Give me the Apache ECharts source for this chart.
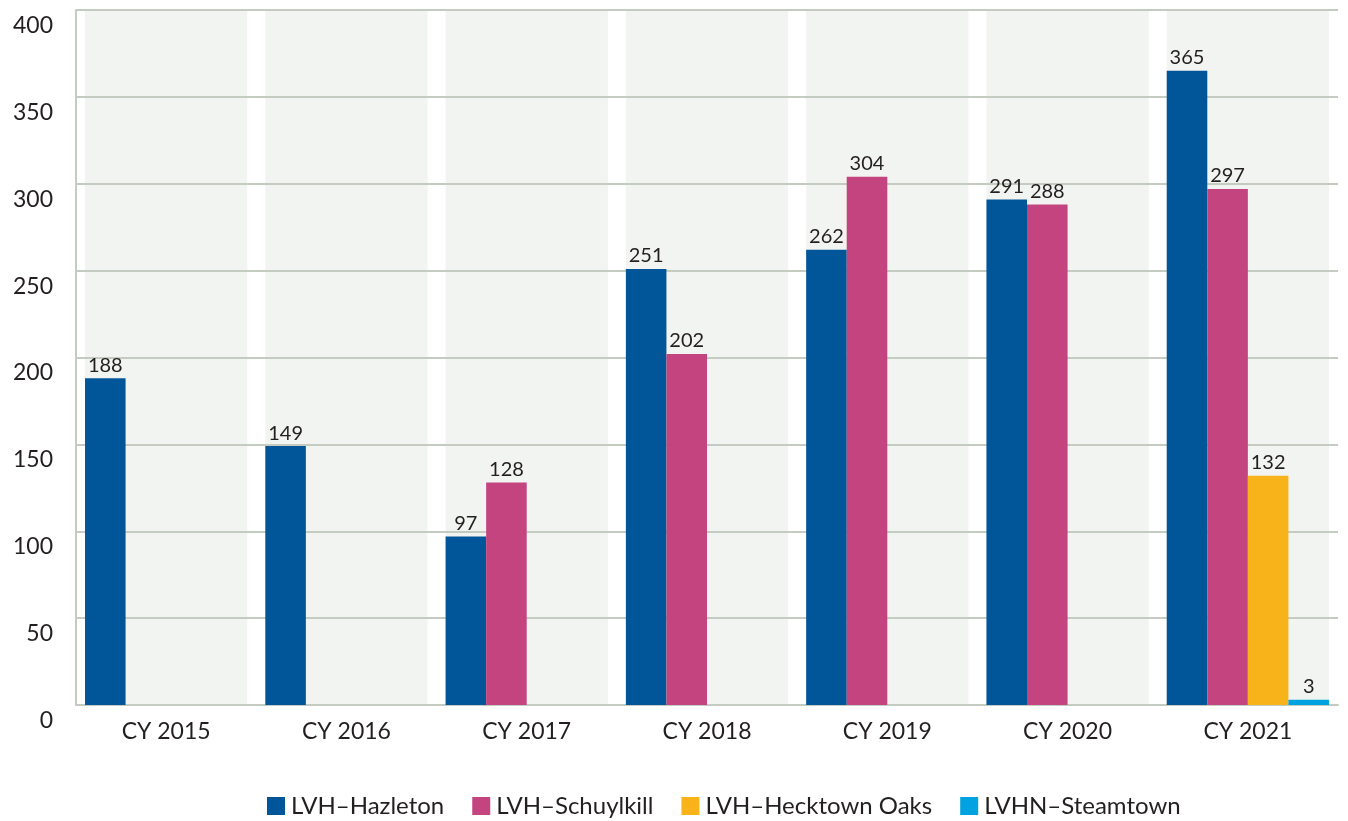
<!DOCTYPE html>
<html>
<head>
<meta charset="utf-8">
<script src="https://cdn.jsdelivr.net/npm/echarts@6/dist/echarts.min.js"></script>
<style>html,body{margin:0;padding:0;background:#fff;}#c{width:1348px;height:821px;}</style>
</head>
<body>
<div id="c"></div>
<script>
const categories = ['CY 2015','CY 2016','CY 2017','CY 2018','CY 2019','CY 2020','CY 2021'];
const hazleton   = [188, 149, 97, 251, 262, 291, 365];
const schuylkill = [null, null, 128, 202, 304, 288, 297];
const hecktown   = [null, null, null, null, null, null, 132];
const steamtown  = [null, null, null, null, null, null, 3];
const bandValues = [400, 400, 400, 400, 400, 400, 400];
const yTicks = {min: 0, max: 400, interval: 50};

const FONT = 'Lato';
const TXT = '#231f20';
const GRIDC = '#c4ccc2';

const chart = echarts.init(document.getElementById('c'));
function barSeries(name, data, color) {
  return {
    name, type: 'bar', data, xAxisIndex: 0, z: 3,
    barGap: '0%', barCategoryGap: '10%',
    itemStyle: {color},
    label: {show: true, position: 'top', distance: 3, color: TXT, fontFamily: FONT, fontSize: 20}
  };
}
chart.setOption({
  animation: false,
  grid: {left: 76, right: 10, top: 10, bottom: 116, containLabel: false},
  legend: {
    top: 794, left: 267, padding: 0, icon: 'rect', itemWidth: 18, itemHeight: 18, itemGap: 28,
    textStyle: {fontFamily: FONT, fontSize: 24, color: TXT, padding: [0,0,0,1]},
    data: ['LVH–Hazleton','LVH–Schuylkill','LVH–Hecktown Oaks','LVHN–Steamtown']
  },
  xAxis: [{
    type: 'category', data: categories, z: 2,
    axisLine: {show: true, lineStyle: {color: GRIDC, width: 2}},
    axisTick: {show: false},
    axisLabel: {color: TXT, fontFamily: FONT, fontSize: 23, margin: 15}
  }, {
    type: 'category', data: categories, show: false
  }],
  yAxis: {
    type: 'value', min: yTicks.min, max: yTicks.max, interval: yTicks.interval, z: 2,
    axisLine: {show: true, lineStyle: {color: GRIDC, width: 2}},
    axisTick: {show: false},
    splitLine: {show: true, lineStyle: {color: GRIDC, width: 2}},
    axisLabel: {color: TXT, fontFamily: FONT, fontSize: 23, margin: 23, verticalAlign: 'top', padding: [4,0,0,0]}
  },
  series: [
    {
      type: 'bar', xAxisIndex: 1, data: bandValues, barWidth: '90%', silent: true, z: 1,
      itemStyle: {color: '#f2f4f1'}, label: {show: false}, tooltip: {show: false}
    },
    barSeries('LVH–Hazleton', hazleton, '#01569a'),
    barSeries('LVH–Schuylkill', schuylkill, '#c3447e'),
    barSeries('LVH–Hecktown Oaks', hecktown, '#f9b31a'),
    barSeries('LVHN–Steamtown', steamtown, '#00a3e0')
  ]
});
</script>
</body>
</html>
